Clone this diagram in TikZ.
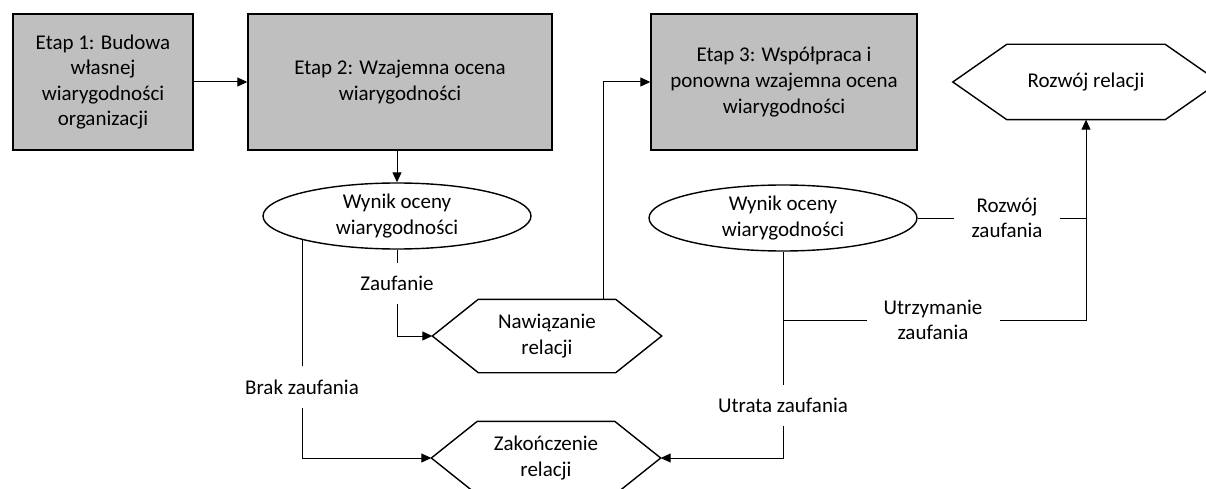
\documentclass[tikz,border=0pt]{standalone}
\usepackage{fontspec}
\setmainfont{Carlito}
\usetikzlibrary{arrows.meta,shapes.geometric,backgrounds}
\definecolor{stagegray}{RGB}{191,191,191}

% outline of a flat-topped hexagon around a text node, with named side tips
\newcommand\hexframe[2]{%
  \draw[shapeline] (#1.north west) -- (#1.north east) -- ([xshift=#2]#1.east)
    -- (#1.south east) -- (#1.south west) -- ([xshift=-#2]#1.west) -- cycle;
  \coordinate (#1-l) at ([xshift=-#2]#1.west);
  \coordinate (#1-r) at ([xshift=#2]#1.east);}

\begin{document}
\begin{tikzpicture}[x=1pt,y=-1pt,
  every node/.style={font=\fontsize{21}{25.6}\selectfont, align=center, text=black},
  shapeline/.style={draw=black, line width=1.4pt, line join=miter},
  stage/.style={shapeline, fill=stagegray, minimum width=#1, minimum height=136pt, inner sep=0pt},
  outcome/.style={shapeline, ellipse, fill=white, minimum width=268pt, minimum height=66pt, inner sep=0pt},
  hexbox/.style={inner sep=0pt},
  lab/.style={inner xsep=17pt, inner ysep=13pt},
  conn/.style={draw=black, line width=1pt},
  arr/.style={conn, -{Triangle[length=10pt,width=9pt]}}]

\useasboundingbox (0,0) rectangle (1206,489);
\clip (0,0) rectangle (1206,489);

% stages
\node[stage=180pt] (s1) at (103,82) {Etap 1: Budowa\\własnej\\wiarygodności\\organizacji};
\node[stage=304pt] (s2) at (400,82) {Etap 2: Wzajemna ocena\\wiarygodności};
\node[stage=266pt] (s3) at (784,82) {Etap 3: Współpraca i\\ponowna wzajemna ocena\\wiarygodności};

% assessment results
\node[outcome] (w1) at (397,216) {Wynik oceny\\wiarygodności};
\node[outcome] (w2) at (783,218) {Wynik oceny\\wiarygodności};

% relationship states
\node[hexbox, minimum width=137pt, minimum height=73pt] (naw) at (547,336) {Nawiązanie\\relacji};
\hexframe{naw}{46pt}
\node[hexbox, minimum width=137pt, minimum height=73pt] (zak) at (546,458) {Zakończenie\\relacji};
\hexframe{zak}{46pt}
\node[hexbox, minimum width=158pt, minimum height=75pt] (roz) at (1086,82) {Rozwój relacji};
\hexframe{roz}{54pt}

% branch labels
\node[lab] (zau) at (397,283) {Zaufanie};
\node[lab] (brak) at (302,387) {Brak zaufania};
\node[lab] (utl) at (783,405) {Utrata zaufania};
\node[lab] (rzl) at (1007,218) {Rozwój\\zaufania};
\node[lab] (utz) at (933,320) {Utrzymanie\\zaufania};

% connectors
\draw[arr] (s1.east) -- (s2.west);
\draw[arr] (w1.north |- s2.south) -- (w1.north);
\draw[conn] (w1.south) -- (zau.north);
\draw[arr] (zau.south) |- (naw-l);
\draw[arr] ([xshift=56pt]naw.north) |- (s3.west);
\draw[arr] (brak.south) |- (zak-l);
\draw[conn] (w2.south) -- (utl.north);
\draw[arr] (utl.south) |- (zak-r);
\draw[conn] (w2.east) -- (rzl.west);
\draw[conn] (rzl.east) -- (rzl.east -| roz.south);
\draw[conn] (utz.west -| w2.south) -- (utz.west);
\draw[arr] (utz.east) -| (roz.south);
\begin{scope}[on background layer]
  \draw[conn] (brak.north) -- (brak.north |- w1.center);
\end{scope}
\end{tikzpicture}
\end{document}
